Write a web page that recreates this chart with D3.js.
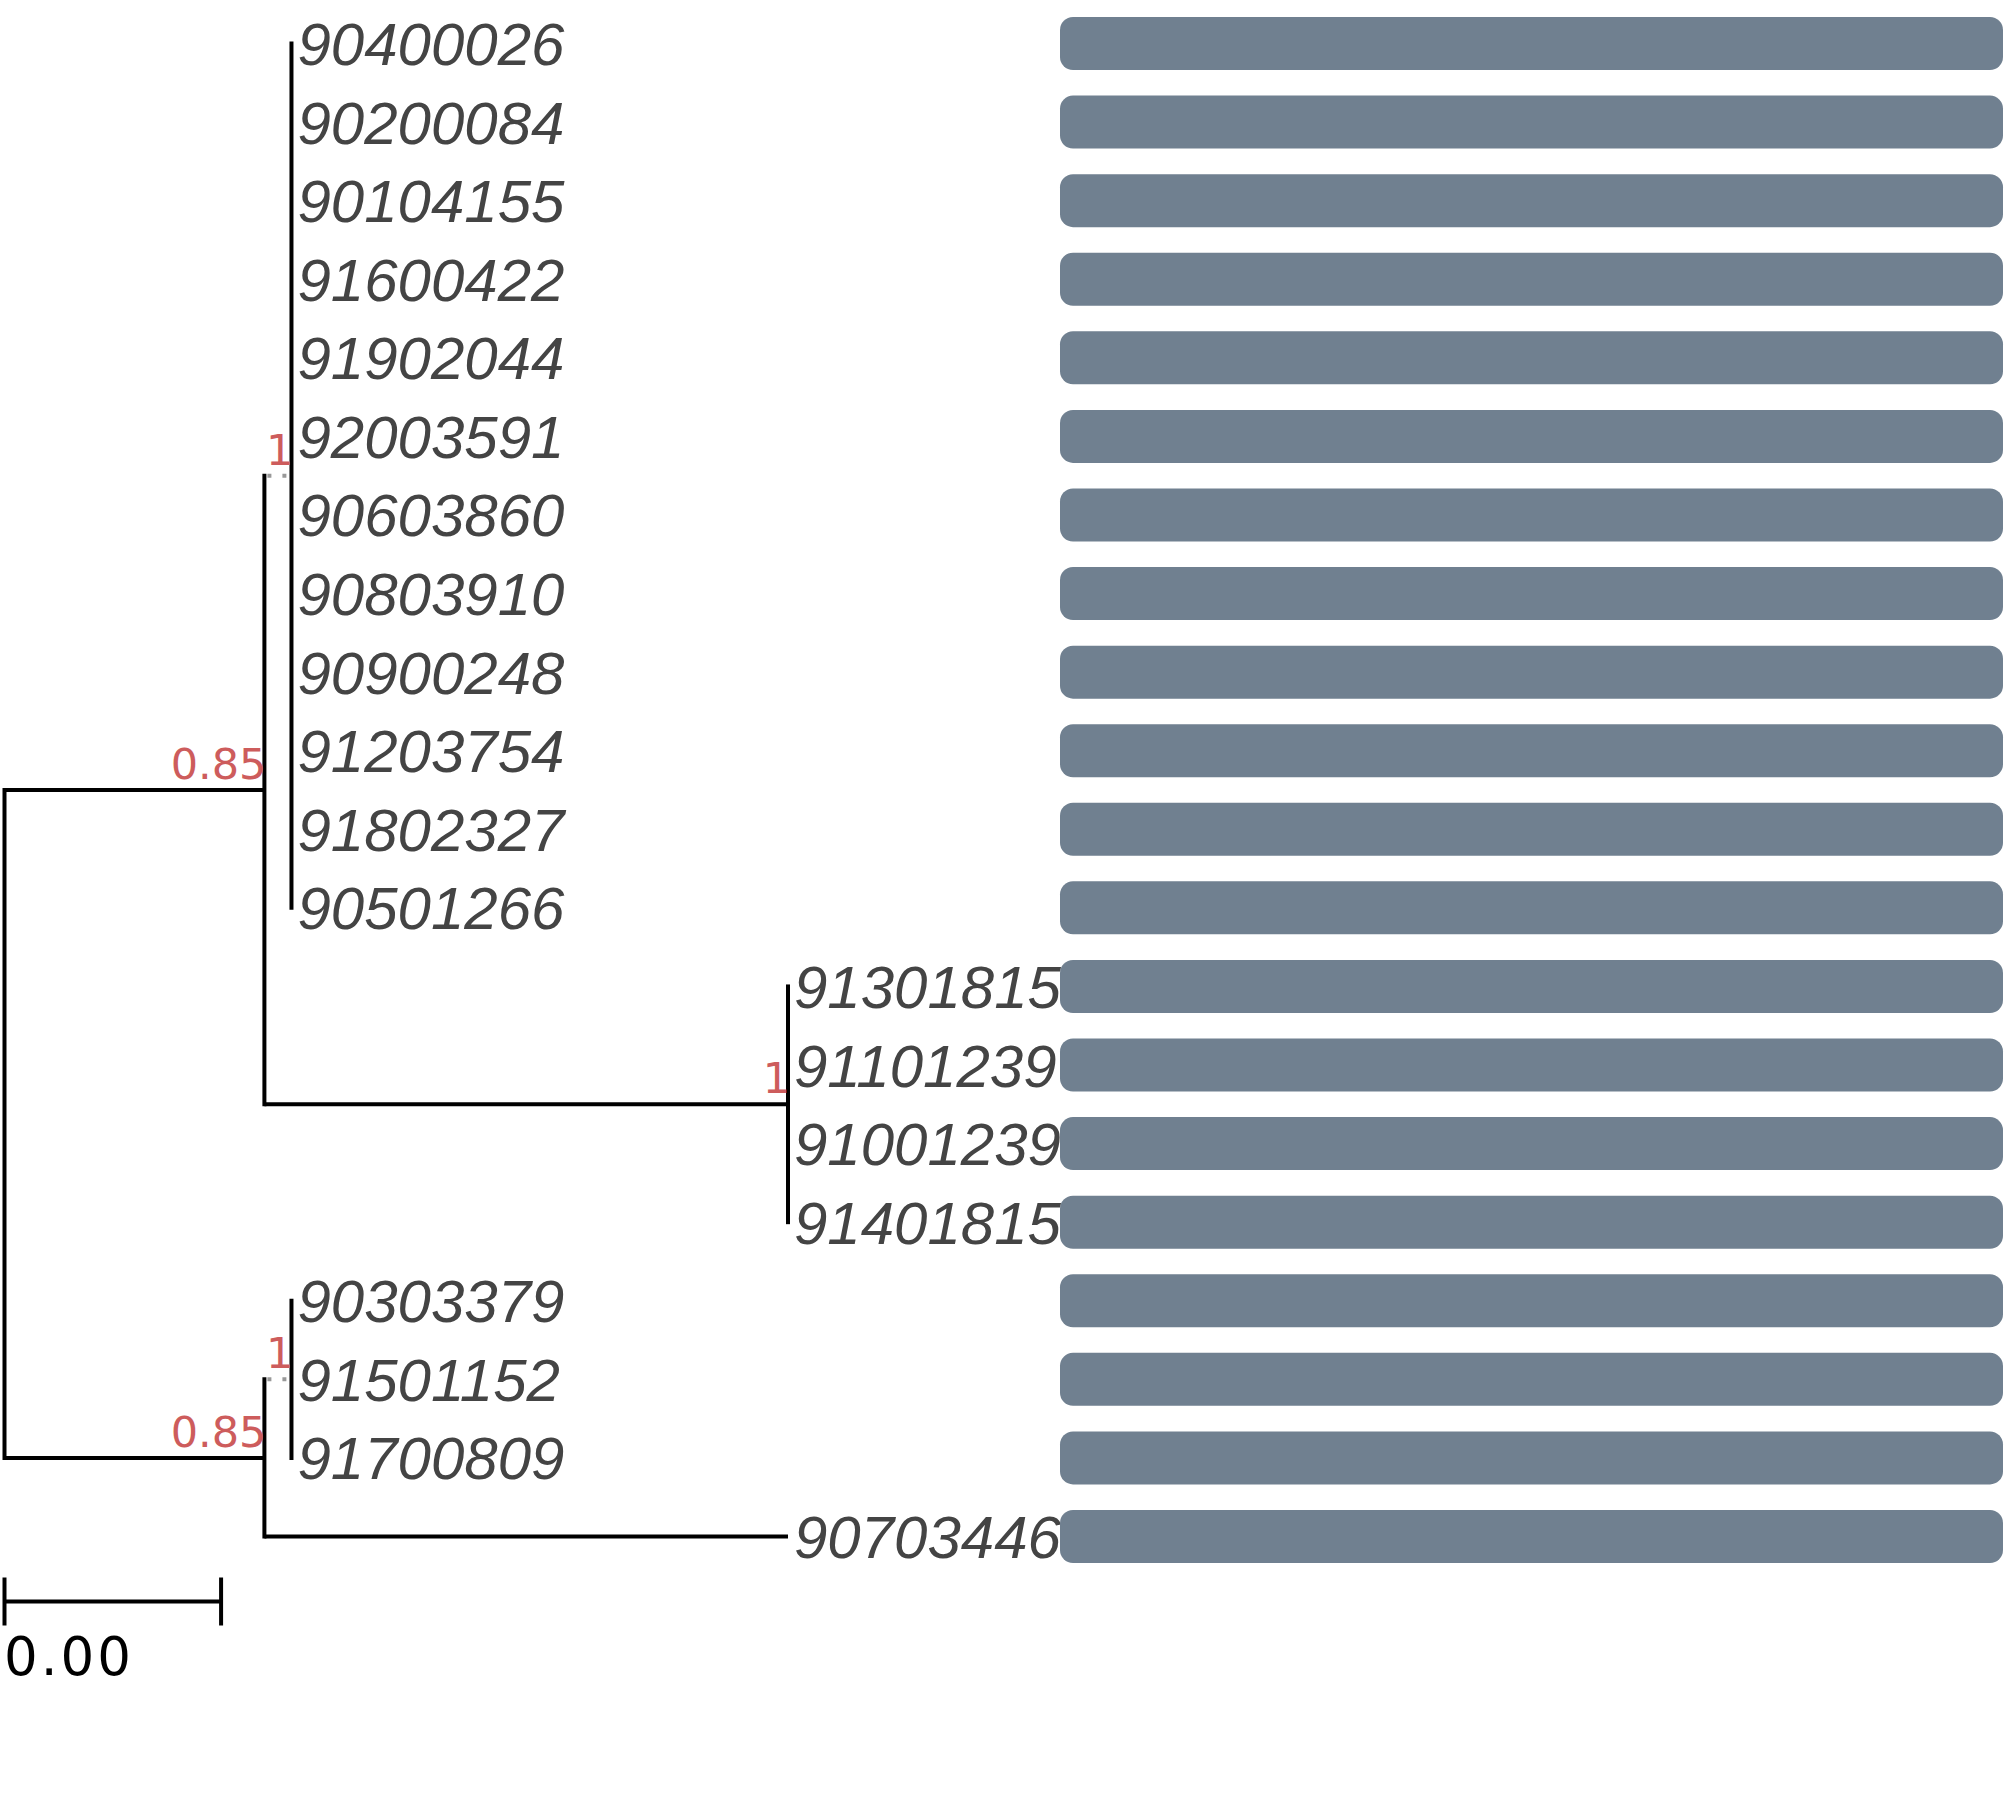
<!DOCTYPE html>
<meta charset="utf-8">
<style>
    body { margin: 0; background: #fff; }
    .tipLabel { font: italic 60px "Liberation Sans", Arial, sans-serif; fill: #444444; }
    .support { font: 43px "DejaVu Sans", sans-serif; fill: #cd5c5c; }
    .scaleLabel { font: 53px "DejaVu Sans", sans-serif; fill: #000; letter-spacing: 3px; }
</style>
<body>
    <script src="https://d3js.org/d3.v7.min.js"></script>
    <script>
        // page size
        let width = 2007;
        let height = 1798;

        // tree in newick, internal labels are support values, lengths are substitutions/site
        let newick = "(((90400026:0,90200084:0,90104155:0,91600422:0,91902044:0,92003591:0,90603860:0,90803910:0,90900248:0,91203754:0,91802327:0,90501266:0)1:0.0005,(91301815:0,91101239:0,91001239:0,91401815:0)1:0.00967)0.85:0.0048,((90303379:0,91501152:0,91700809:0)1:0.0005,90703446:0.00967)0.85:0.0048);";

        // tip order top to bottom and the bar value for each tip
        let tipOrder = ["90400026", "90200084", "90104155", "91600422", "91902044", "92003591",
                        "90603860", "90803910", "90900248", "91203754", "91802327", "90501266",
                        "91301815", "91101239", "91001239", "91401815",
                        "90303379", "91501152", "91700809", "90703446"];
        let barValues = [1, 1, 1, 1, 1, 1, 1, 1, 1, 1, 1, 1, 1, 1, 1, 1, 1, 1, 1, 1];

        let scaleBarValue = 0.004;

        // tiny newick reader -> nested objects {name, length, children}
        function parseNewick(s){
            let i = 0;
            function readNode(){
                let node = {children: []};
                if(s[i] === "("){
                    i++;
                    node.children.push(readNode());
                    while(s[i] === ","){
                        i++;
                        node.children.push(readNode());
                    }
                    i++; // ")"
                }
                let name = "";
                while(i < s.length && ",():;".indexOf(s[i]) < 0){ name += s[i]; i++; }
                node.name = name;
                node.length = 0;
                if(s[i] === ":"){
                    i++;
                    let len = "";
                    while(i < s.length && ",();".indexOf(s[i]) < 0){ len += s[i]; i++; }
                    node.length = +len;
                }
                return node;
            }
            return readNode();
        }

        let root = d3.hierarchy(parseNewick(newick), d => d.children.length ? d.children : null);

        // cumulative branch length
        root.each(function(d){
            d.dist = d.parent ? d.parent.dist + d.data.length : 0;
        });

        let maxDist = d3.max(root.leaves(), d => d.dist);

        let x = d3.scaleLinear()
            .domain([0, maxDist])
            .range([4.5, 788]);

        let y = d3.scalePoint()
            .domain(tipOrder)
            .range([43.5, 1536.5]);

        let barX = d3.scaleLinear()
            .domain([0, 1])
            .range([1060, 2003]);

        // tip y from order, internal y = mean of children
        root.eachAfter(function(d){
            if(d.children) d.ypos = d3.mean(d.children, c => c.ypos);
            else d.ypos = y(d.data.name);
        });

        let svg = d3.select("body").append("svg")
            .attr("width", width)
            .attr("height", height);

        let tree = svg.append("g");
        let lw = 4;

        // horizontal branches (very short ones drawn dotted grey)
        tree.selectAll(".branch")
            .data(root.descendants().filter(d => d.parent && d.data.length > 0))
            .join("line")
                .attr("class", "branch")
                .attr("x1", d => x(d.parent.dist))
                .attr("x2", d => x(d.dist))
                .attr("y1", d => d.ypos)
                .attr("y2", d => d.ypos)
                .attr("stroke", d => d.data.length < 0.001 ? "#999999" : "#000")
                .attr("stroke-dasharray", d => d.data.length < 0.001 ? "0,3,4,8" : null)
                .attr("stroke-width", lw);

        // vertical connectors
        tree.selectAll(".connector")
            .data(root.descendants().filter(d => d.children))
            .join("line")
                .attr("class", "connector")
                .attr("x1", d => x(d.dist))
                .attr("x2", d => x(d.dist))
                .attr("y1", d => d3.min(d.children, c => c.ypos) - lw / 2)
                .attr("y2", d => d3.max(d.children, c => c.ypos) + lw / 2)
                .attr("stroke", "#000")
                .attr("stroke-width", lw);

        // support values
        tree.selectAll(".support")
            .data(root.descendants().filter(d => d.children && d.parent && d.data.name !== ""))
            .join("text")
                .attr("class", "support")
                .attr("text-anchor", "end")
                .attr("x", d => x(d.dist) + 2)
                .attr("y", d => d.ypos - 11)
                .text(d => d.data.name);

        // tip labels
        tree.selectAll(".tipLabel")
            .data(root.leaves())
            .join("text")
                .attr("class", "tipLabel")
                .attr("x", d => x(d.dist) + 6)
                .attr("y", d => d.ypos + 21.5)
                .text(d => d.data.name);

        // bars
        svg.append("g").selectAll("rect")
            .data(tipOrder)
            .join("rect")
                .attr("x", barX(0))
                .attr("y", d => y(d) - 26.5)
                .attr("width", (d, i) => barX(barValues[i]) - barX(0))
                .attr("height", 53)
                .attr("rx", 13)
                .attr("fill", "#708090");

        // scale bar
        let sb = svg.append("g");
        let sbY = 1601.5;
        sb.append("line")
            .attr("x1", x(0)).attr("x2", x(scaleBarValue))
            .attr("y1", sbY).attr("y2", sbY)
            .attr("stroke", "#000").attr("stroke-width", lw);
        sb.selectAll(".tick")
            .data([0, scaleBarValue])
            .join("line")
                .attr("x1", d => x(d)).attr("x2", d => x(d))
                .attr("y1", sbY - 24).attr("y2", sbY + 24)
                .attr("stroke", "#000").attr("stroke-width", lw);
        sb.append("text")
            .attr("class", "scaleLabel")
            .attr("x", 4)
            .attr("y", 1675)
            .text(d3.format(".2f")(scaleBarValue));
    </script>
</body>
